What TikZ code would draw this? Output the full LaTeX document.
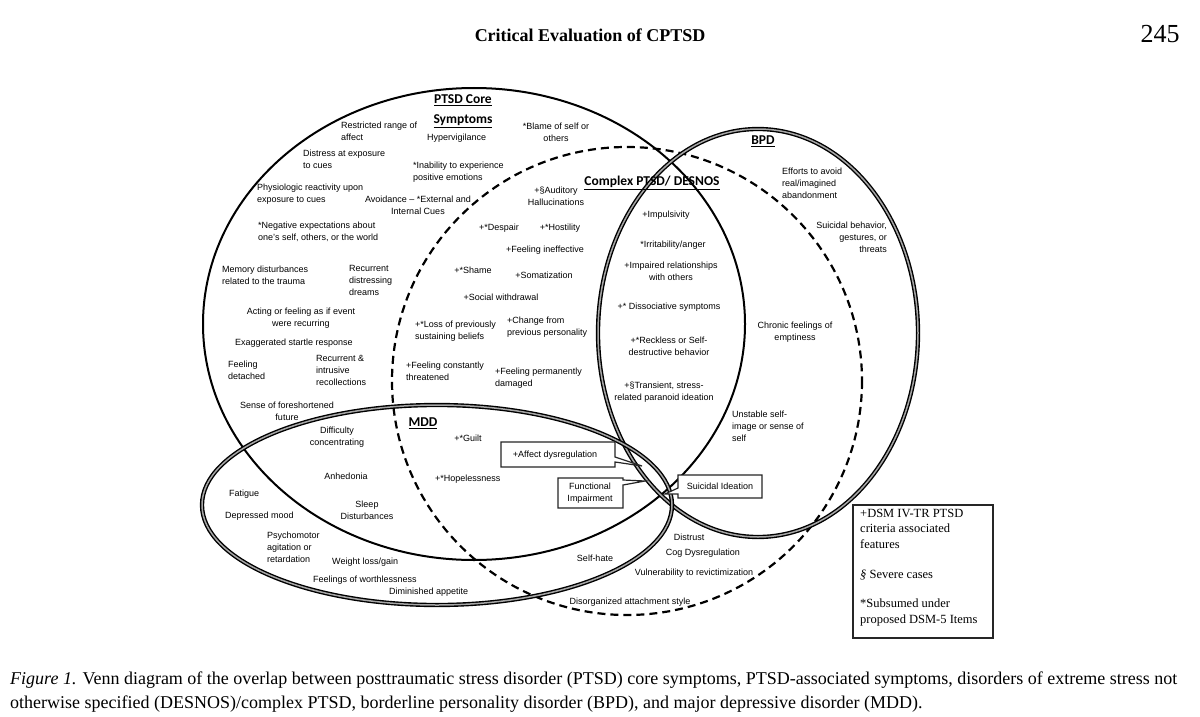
\documentclass[tikz,border=0pt]{standalone}
\usepackage{fontspec}
\setmainfont{Liberation Serif}
\setsansfont{Liberation Sans}
\newfontfamily\calibri{Carlito}
\begin{document}
\begin{tikzpicture}[x=1pt,y=-1pt,
  lbl/.style={font=\sffamily\fontsize{9}{12}\selectfont, inner sep=0pt, align=left, anchor=north west},
  clbl/.style={font=\sffamily\fontsize{9}{12}\selectfont, inner sep=0pt, align=center, anchor=north},
  pt/.style={font=\sffamily\fontsize{9}{12}\selectfont, inner sep=0pt, anchor=center},
  title/.style={font=\calibri\bfseries\fontsize{13.5}{20}\selectfont, inner sep=0pt, align=center},
  thinring/.style={draw=black, line width=2pt},
  dashring/.style={draw=black, line width=2.2pt, dash pattern=on 8pt off 5pt},
  thickring/.style={draw=black, line width=1.4pt, double=gray!70, double distance=1.5pt},
  callout/.style={draw=black!85, line width=1.2pt, fill=white},
  legend/.style={font=\fontsize{12.5}{15.5}\selectfont, inner sep=0pt, align=left, anchor=north west}
]
\useasboundingbox (0,0) rectangle (1200,717);
\fill[white] (0,0) rectangle (1200,717);

% header
\node[inner sep=0pt] (head) at (590,35) {\fontsize{18}{18}\selectfont\bfseries Critical Evaluation of CPTSD};
\node[inner sep=0pt] (page) at (1160,34) {\fontsize{26}{26}\selectfont 245};

% rings
\draw[thinring] (474,324) ellipse [x radius=271, y radius=236];
\draw[dashring] (627,381) ellipse [x radius=235, y radius=234];
\draw[thickring] (758,333) ellipse [x radius=160, y radius=204];
\draw[thickring] (437,505) ellipse [x radius=235, y radius=100];

% titles
\node[title] (tptsd) at (463,111) {\underline{PTSD Core}\\\underline{Symptoms}};
\node[title] (tcptsd) at (652,183) {\underline{Complex PTSD/ DESNOS}};
\node[title] (tbpd) at (763,141) {\underline{BPD}};
\node[title] (tmdd) at (423,423) {\underline{MDD}};

% PTSD core
\node[lbl] (p1) at (341,122) {Restricted range of\\affect};
\node[lbl] (p2) at (427,134) {Hypervigilance};
\node[clbl] (p3) at (556,123) {*Blame of self or\\others};
\node[lbl] (p4) at (303,150) {Distress at exposure\\to cues};
\node[lbl] (p5) at (413,162) {*Inability to experience\\positive emotions};
\node[lbl] (p6) at (257,184) {Physiologic reactivity upon\\exposure to cues};
\node[clbl] (p7) at (418,196) {Avoidance -- *External and\\Internal Cues};
\node[lbl] (p8) at (258,222) {*Negative expectations about\\one's self, others, or the world};
\node[lbl] (p9) at (222,266) {Memory disturbances\\related to the trauma};
\node[lbl] (p10) at (349,265) {Recurrent\\distressing\\dreams};
\node[clbl] (p11) at (301,308) {Acting or feeling as if event\\were recurring};
\node[lbl] (p12) at (235,339) {Exaggerated startle response};
\node[lbl] (p13) at (228,361) {Feeling\\detached};
\node[lbl] (p14) at (316,355) {Recurrent \&\\intrusive\\recollections};
\node[clbl] (p15) at (287,402) {Sense of foreshortened\\future};

% Complex PTSD
\node[clbl] (c1) at (556,187) {+\S Auditory\\Hallucinations};
\node[pt] (c2) at (499,228) {+*Despair};
\node[pt] (c3) at (560,228) {+*Hostility};
\node[pt] (c4) at (545,250) {+Feeling ineffective};
\node[pt] (c5) at (473,270) {+*Shame};
\node[pt] (c6) at (544,275) {+Somatization};
\node[pt] (c7) at (501,297) {+Social withdrawal};
\node[lbl] (c8) at (415,321) {+*Loss of previously\\sustaining beliefs};
\node[lbl] (c9) at (507,317) {+Change from\\previous personality};
\node[lbl] (c10) at (406,362) {+Feeling constantly\\threatened};
\node[lbl] (c11) at (495,368) {+Feeling permanently\\damaged};

% CPTSD & BPD
\node[pt] (x1) at (666,215) {+Impulsivity};
\node[pt] (x2) at (673,245) {*Irritability/anger};
\node[clbl] (x3) at (671,262) {+Impaired relationships\\with others};
\node[pt] (x4) at (669,307) {+* Dissociative symptoms};
\node[clbl] (x5) at (669,337) {+*Reckless or Self-\\destructive behavior};
\node[clbl] (x6) at (664,382) {+\S Transient, stress-\\related paranoid ideation};

% BPD
\node[lbl] (b1) at (782,168) {Efforts to avoid\\real/imagined\\abandonment};
\node[lbl, align=right, anchor=north east] (b2) at (887,222) {Suicidal behavior,\\gestures, or\\threats};
\node[clbl] (b3) at (795,322) {Chronic feelings of\\emptiness};
\node[lbl] (b4) at (732,411) {Unstable self-\\image or sense of\\self};

% MDD
\node[pt] (m1) at (468,438) {+*Guilt};
\node[lbl] (m2) at (435,475) {+*Hopelessness};
\node[clbl] (m3) at (337,427) {Difficulty\\concentrating};
\node[pt] (m4) at (346,476) {Anhedonia};
\node[lbl] (m5) at (229,490) {Fatigue};
\node[lbl] (m6) at (225,512) {Depressed mood};
\node[clbl] (m7) at (367,501) {Sleep\\Disturbances};
\node[lbl] (m8) at (267,532) {Psychomotor\\agitation or\\retardation};
\node[lbl] (m9) at (332,558) {Weight loss/gain};
\node[lbl] (m10) at (313,576) {Feelings of worthlessness};
\node[lbl] (m11) at (389,588) {Diminished appetite};

% outer
\node[pt] (o1) at (595,558) {Self-hate};
\node[pt] (o2) at (689,537) {Distrust};
\node[pt] (o3) at (703,553) {Cog Dysregulation};
\node[pt] (o4) at (694,573) {Vulnerability to revictimization};
\node[pt] (o5) at (630,602) {Disorganized attachment style};

% callouts
\draw[callout] (501,442) -- (615,442) -- (615,457) -- (642,466) -- (615,462) -- (615,467) -- (501,467) -- cycle;
\node[pt] (k1) at (555,455) {+Affect dysregulation};
\draw[callout] (558,478) -- (623,478) -- (623,480) -- (645,481) -- (623,485) -- (623,508) -- (558,508) -- cycle;
\node[clbl] (k2) at (590,483) {Functional\\Impairment};
\draw[callout] (678,475) -- (762,475) -- (762,498) -- (678,498) -- (678,494) -- (665,494) -- (678,488) -- cycle;
\node[pt] (k3) at (720,486) {Suicidal Ideation};

% legend
\draw[line width=1.2pt, draw=black!85] (853,505) rectangle (993,638);
\node[legend] (l1) at (860,509) {+DSM IV-TR PTSD\\criteria associated\\features};
\node[legend] (l2) at (860,570) {\textit{\S} Severe cases};
\node[legend] (l3) at (860,599) {*Subsumed under\\proposed DSM-5 Items};

% caption
\node[inner sep=0pt, anchor=west, font=\fontsize{18}{24}\selectfont] (cap1) at (10,680) {\textit{Figure 1.} Venn diagram of the overlap between posttraumatic stress disorder (PTSD) core symptoms, PTSD-associated symptoms, disorders of extreme stress not};
\node[inner sep=0pt, anchor=west, font=\fontsize{18}{24}\selectfont] (cap2) at (10,704) {otherwise specified (DESNOS)/complex PTSD, borderline personality disorder (BPD), and major depressive disorder (MDD).};
\end{tikzpicture}
\end{document}
